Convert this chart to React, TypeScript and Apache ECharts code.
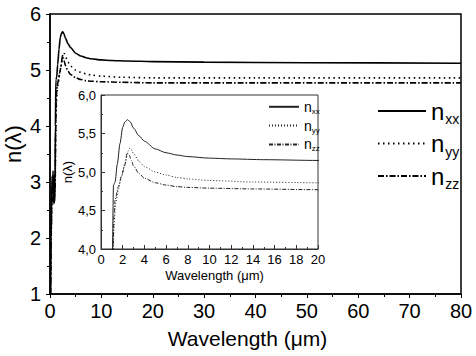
import React, { useEffect, useRef } from "react";
import * as echarts from "echarts";

// wavelength (µm), refractive index
const nxxData: [number, number][] = [
  [0.12, 1.0], [0.2, 2.0], [0.3, 2.5], [0.4, 3.1], [0.5, 2.9], [0.6, 3.2], [0.7, 2.7],
  [0.8, 3.1], [0.9, 2.65], [1.0, 3.0], [1.05, 4.0], [1.15, 4.83], [1.3, 4.87], [1.5, 5.1],
  [1.75, 5.37], [2.0, 5.58], [2.2, 5.65], [2.45, 5.68], [2.7, 5.65], [3.0, 5.57], [3.5, 5.47],
  [4, 5.4], [5, 5.3], [6, 5.25], [7, 5.22], [8, 5.2], [10, 5.18], [12, 5.17], [15, 5.16],
  [20, 5.15], [30, 5.14], [50, 5.13], [80, 5.12],
];
const nyyData: [number, number][] = [
  [0.12, 1.0], [0.25, 2.2], [0.35, 2.8], [0.5, 3.0], [0.6, 2.8], [0.7, 3.1], [0.8, 2.7],
  [0.9, 2.9], [1.0, 3.0], [1.1, 3.8], [1.2, 4.3], [1.35, 4.59], [1.6, 4.77], [1.9, 4.95],
  [2.2, 5.1], [2.5, 5.27], [2.65, 5.31], [2.8, 5.29], [3.0, 5.24], [3.5, 5.14], [4, 5.07],
  [5, 5.0], [6, 4.96], [7, 4.93], [8, 4.91], [10, 4.89], [14, 4.87], [20, 4.86], [40, 4.86],
  [80, 4.86],
];
const nzzData: [number, number][] = [
  [0.12, 1.0], [0.25, 2.1], [0.35, 2.7], [0.5, 2.9], [0.6, 2.6], [0.7, 3.0], [0.8, 2.6],
  [0.9, 2.8], [1.0, 2.9], [1.1, 3.9], [1.2, 4.45], [1.3, 4.64], [1.6, 4.81], [1.9, 4.95],
  [2.15, 5.07], [2.42, 5.25], [2.6, 5.22], [2.8, 5.15], [3.0, 5.08], [3.5, 4.98], [4, 4.92],
  [5, 4.86], [6, 4.83], [7, 4.81], [8, 4.8], [10, 4.79], [14, 4.78], [20, 4.77], [40, 4.77],
  [80, 4.77],
];
const seriesKeys = ["xx", "yy", "zz"];
const seriesData = [nxxData, nyyData, nzzData];

const FONT = "Liberation Sans, Arial, sans-serif";
const dashMain: any[] = ["solid", [1.5, 3.5], [6, 2, 1.5, 2]];
const dashInset: any[] = ["solid", [1, 2], [4, 1.5, 1, 1.5]];

export default function App() {
  const ref = useRef<HTMLDivElement>(null);
  useEffect(() => {
    const chart = echarts.init(ref.current!, null, { renderer: "svg" });
    const axisLine = { lineStyle: { color: "#000", width: 1.5 } };
    const mainSeries = seriesKeys.map((k, i) => ({
      name: k,
      type: "line",
      xAxisIndex: 0,
      yAxisIndex: 0,
      data: seriesData[i],
      showSymbol: false,
      smooth: 0.25,
      smoothMonotone: "x",
      lineStyle: { color: "#000", width: 1.6, type: dashMain[i] },
      itemStyle: { color: "#000" },
    }));
    const insetSeries = seriesKeys.map((k, i) => ({
      name: k + "_in",
      type: "line",
      xAxisIndex: 1,
      yAxisIndex: 1,
      data: seriesData[i],
      showSymbol: false,
      smooth: 0.25,
      smoothMonotone: "x",
      lineStyle: { color: "#222", width: 1, type: dashInset[i] },
      itemStyle: { color: "#222" },
    }));
    chart.setOption({
      animation: false,
      textStyle: { fontFamily: FONT, color: "#000" },
      grid: [
        { left: 50, top: 14, right: 15, bottom: 62, show: true, borderColor: "#000", borderWidth: 1.5, containLabel: false },
        { left: 101, top: 95, width: 217, height: 154, show: true, borderColor: "#333", borderWidth: 1, backgroundColor: "#fff", containLabel: false },
      ],
      graphic: [
        {
          type: "text", x: 13, y: 144, rotation: Math.PI / 2,
          style: { text: "n(\u03bb)", font: "22px Liberation Sans, Arial, sans-serif", fill: "#000", align: "center", verticalAlign: "middle" },
        },
      ],
      xAxis: [
        {
          type: "value", gridIndex: 0, min: 0, max: 80, interval: 10,
          name: "Wavelength (\u03bcm)", nameLocation: "middle", nameGap: 34,
          nameTextStyle: { fontSize: 21, color: "#000", fontFamily: FONT, padding: [0, 16, 0, 0] },
          axisLine, splitLine: { show: false },
          axisTick: { inside: false, length: 4, lineStyle: { color: "#000" } },
          minorTick: { show: true, splitNumber: 2, length: 3, lineStyle: { color: "#000" } },
          axisLabel: { fontSize: 20, color: "#000", margin: 7, fontFamily: FONT },
        },
        {
          type: "value", gridIndex: 1, min: 0, max: 20, interval: 2,
          name: "Wavelength (\u03bcm)", nameLocation: "middle", nameGap: 20,
          nameTextStyle: { fontSize: 13, color: "#000", fontFamily: FONT, padding: [0, 0, 0, 10] },
          axisLine: { lineStyle: { color: "#333", width: 1 } }, splitLine: { show: false },
          axisTick: { inside: true, length: 4, lineStyle: { color: "#333" } },
          minorTick: { show: true, splitNumber: 2, length: 2, lineStyle: { color: "#333" } },
          axisLabel: { fontSize: 13, color: "#000", margin: 4, fontFamily: FONT },
        },
      ],
      yAxis: [
        {
          type: "value", gridIndex: 0, min: 1, max: 6, interval: 1,
          axisLine, splitLine: { show: false },
          axisTick: { inside: false, length: 4, lineStyle: { color: "#000" } },
          minorTick: { show: true, splitNumber: 2, length: 3, lineStyle: { color: "#000" } },
          axisLabel: { fontSize: 20, color: "#000", margin: 9, fontFamily: FONT },
        },
        {
          type: "value", gridIndex: 1, min: 4, max: 6, interval: 0.5,
          name: "n(\u03bb)", nameLocation: "middle", nameGap: 24,
          nameTextStyle: { fontSize: 13, color: "#000", fontFamily: FONT },
          axisLine: { lineStyle: { color: "#333", width: 1 } }, splitLine: { show: false },
          axisTick: { inside: true, length: 4, lineStyle: { color: "#333" } },
          minorTick: { show: true, splitNumber: 2, length: 2, lineStyle: { color: "#333" } },
          axisLabel: {
            fontSize: 13, color: "#000", margin: 5, fontFamily: FONT,
            formatter: (v: number) => v.toFixed(1).replace(".", ","),
          },
        },
      ],
      legend: [
        {
          orient: "vertical", left: 372, top: 93, itemWidth: 48, itemHeight: 30, itemGap: 4.5,
          data: seriesKeys,
          itemStyle: { opacity: 0 },
          formatter: (name: string) => `{n|n}{s|${name.slice(0, 2)}}`,
          textStyle: {
            fontFamily: FONT,
            rich: {
              n: { fontSize: 24, lineHeight: 30, color: "#000", fontFamily: FONT, verticalAlign: "middle" },
              s: { fontSize: 14, lineHeight: 12, color: "#000", fontFamily: FONT, verticalAlign: "bottom", padding: [0, 0, 0, 1] },
            },
          },
          selectedMode: false,
        },
        {
          orient: "vertical", left: 263, top: 94, itemWidth: 30, itemHeight: 17, itemGap: 2.5,
          data: seriesKeys.map((k) => k + "_in"),
          itemStyle: { opacity: 0 },
          formatter: (name: string) => `{n|n}{s|${name.slice(0, 2)}}`,
          textStyle: {
            fontFamily: FONT,
            rich: {
              n: { fontSize: 14, lineHeight: 17, color: "#000", fontFamily: FONT, verticalAlign: "middle" },
              s: { fontSize: 8, lineHeight: 7, color: "#000", fontFamily: FONT, verticalAlign: "bottom" },
            },
          },
          selectedMode: false,
        },
      ],
      series: [...mainSeries, ...insetSeries],
    });
    return () => chart.dispose();
  }, []);
  return <div ref={ref} style={{ width: 476, height: 356, position: "absolute", left: 0, top: 0 }} />;
}
